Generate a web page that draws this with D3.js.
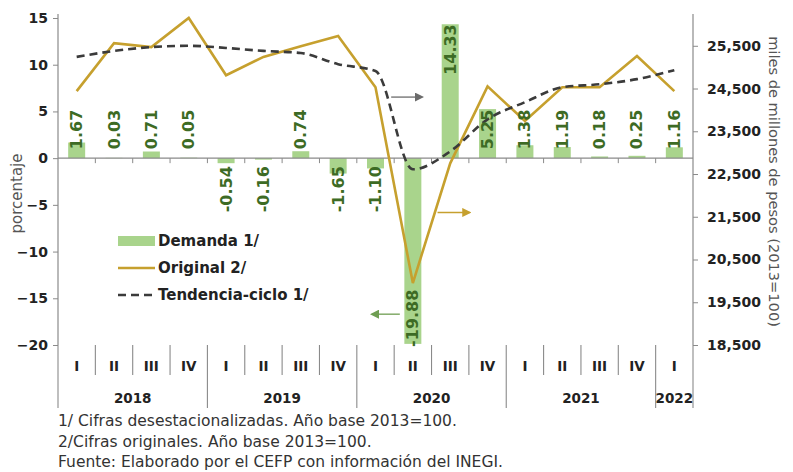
<!DOCTYPE html>
<html lang="es">
<head>
<meta charset="UTF-8">
<script src="https://d3js.org/d3.v7.min.js"></script>
<style>
  body { margin: 0; background: #fff; }
  svg { font-family: "DejaVu Sans", Lato, sans-serif; }
</style>
</head>
<body>
<script>
  // quarters 2018-I .. 2022-I
  const quarters = ["I","II","III","IV","I","II","III","IV","I","II","III","IV","I","II","III","IV","I"];
  const years = [
    {label: "2018", from: 0, to: 4},
    {label: "2019", from: 4, to: 8},
    {label: "2020", from: 8, to: 12},
    {label: "2021", from: 12, to: 16},
    {label: "2022", from: 16, to: 17}
  ];
  // Demanda 1/ (porcentaje, left axis)
  const demanda = [1.67, 0.03, 0.71, 0.05, -0.54, -0.16, 0.74, -1.65, -1.10, -19.88, 14.33, 5.25, 1.38, 1.19, 0.18, 0.25, 1.16];
  // Original 2/ (miles de millones de pesos, right axis)
  const original = [24440, 25560, 25470, 26150, 24810, 25240, 25490, 25730, 24530, 19950, 22750, 24550, 23740, 24530, 24530, 25260, 24440];
  // Tendencia-ciclo 1/ (right axis)
  const tendencia = [25240, 25380, 25470, 25500, 25450, 25380, 25330, 25070, 24910, 22610, 23030, 23780, 24180, 24530, 24600, 24720, 24930];
  const leftTicks = [-20, -15, -10, -5, 0, 5, 10, 15];
  const rightTicks = [18500, 19500, 20500, 21500, 22500, 23500, 24500, 25500];
  const notes = [
    "1/ Cifras desestacionalizadas. Año base 2013=100.",
    "2/Cifras originales. Año base 2013=100.",
    "Fuente: Elaborado por el CEFP con información del INEGI."
  ];

  const width = 793, height = 472;
  const plot = {left: 58, right: 693, top: 18, bottom: 345};

  const barColor = "#a9d48c";
  const labelColor = "#3d6b24";
  const origColor = "#c6a02e";
  const trendColor = "#3b3b3b";
  const axisColor = "#8a8a8a";
  const textColor = "#222";

  const x = d3.scaleBand()
    .domain(d3.range(quarters.length))
    .range([plot.left, plot.right])
    .padding(0);
  const yL = d3.scaleLinear().domain([-20, 15]).range([plot.bottom, plot.top]);
  const yR = d3.scaleLinear().domain([18500, 26150]).range([plot.bottom, plot.top]);
  const cx = i => x(i) + x.bandwidth() / 2;
  const barW = 17;

  const svg = d3.select("body").append("svg")
    .attr("width", width)
    .attr("height", height);

  const defs = svg.append("defs");
  [["arrGray", "#6b6b6b"], ["arrGold", origColor], ["arrGreen", "#6f9e52"]].forEach(([id, c]) => {
    defs.append("marker")
      .attr("id", id)
      .attr("viewBox", "0 0 10 10")
      .attr("refX", 8).attr("refY", 5)
      .attr("markerWidth", 7).attr("markerHeight", 7)
      .attr("orient", "auto-start-reverse")
      .append("path")
      .attr("d", "M0,0 L10,5 L0,10 Z")
      .attr("fill", c);
  });

  // bars
  svg.append("g").selectAll("rect")
    .data(demanda).enter()
    .append("rect")
    .attr("x", (d, i) => cx(i) - barW / 2)
    .attr("y", d => yL(Math.max(0, d)))
    .attr("width", barW)
    .attr("height", d => Math.abs(yL(d) - yL(0)))
    .attr("fill", barColor);

  // zero line with small ticks
  const zero = svg.append("g").attr("transform", `translate(0,${yL(0)})`);
  zero.append("line")
    .attr("x1", plot.left).attr("x2", plot.right)
    .attr("stroke", axisColor).attr("stroke-width", 1.2);
  zero.selectAll("line.t")
    .data(d3.range(1, quarters.length)).enter()
    .append("line").attr("class", "t")
    .attr("x1", i => x(i)).attr("x2", i => x(i))
    .attr("y1", 0).attr("y2", 5)
    .attr("stroke", axisColor);

  // lines
  const lineR = d3.line().x((d, i) => cx(i)).y(d => yR(d));
  svg.append("path")
    .datum(original)
    .attr("d", lineR)
    .attr("fill", "none")
    .attr("stroke", origColor)
    .attr("stroke-width", 2.6)
    .attr("stroke-linejoin", "miter");
  svg.append("path")
    .datum(tendencia)
    .attr("d", d3.line().curve(d3.curveMonotoneX).x((d, i) => cx(i)).y(d => yR(d)))
    .attr("fill", "none")
    .attr("stroke", trendColor)
    .attr("stroke-width", 2.6)
    .attr("stroke-dasharray", "8,5");

  // bar labels (rotated)
  svg.append("g").selectAll("text")
    .data(demanda).enter()
    .append("text")
    .attr("transform", (d, i) => {
      let y;
      if (d > 10) y = yL(d);
      else if (d < -10) y = yL(d) + 3;
      else if (d >= 0) y = yL(0) - 9;
      else y = yL(0) + 8;
      return `translate(${cx(i)},${y}) rotate(-90)`;
    })
    .attr("text-anchor", d => (d > 10 || (d < 0 && d >= -10)) ? "end" : "start")
    .attr("dominant-baseline", "central")
    .attr("fill", labelColor)
    .attr("font-size", 16)
    .attr("font-weight", 700)
    .text(d => d.toFixed(2));

  // left axis
  const axL = svg.append("g")
    .attr("transform", `translate(${plot.left},0)`)
    .call(d3.axisLeft(yL).tickValues(leftTicks).tickSize(5).tickPadding(5));
  // right axis
  const axR = svg.append("g")
    .attr("transform", `translate(${plot.right},0)`)
    .call(d3.axisRight(yR).tickValues(rightTicks).tickFormat(d3.format(",")).tickSize(5).tickPadding(9));
  [axL, axR].forEach(g => {
    g.select(".domain").attr("stroke", axisColor).attr("stroke-width", 1.2)
      .attr("d", `M0,${plot.bottom}V${plot.top - 4}`);
    g.selectAll(".tick line").attr("stroke", axisColor);
    g.selectAll(".tick text")
      .attr("fill", textColor)
      .attr("font-size", 14)
      .attr("font-weight", 700)
      .attr("font-family", "DejaVu Sans, sans-serif");
  });

  // category axis
  const cat = svg.append("g");
  const isYearEdge = i => years.some(y => y.from === i) || i === quarters.length;
  cat.selectAll("line")
    .data(d3.range(0, quarters.length + 1)).enter()
    .append("line")
    .attr("x1", i => i < quarters.length ? x(i) : plot.right)
    .attr("x2", i => i < quarters.length ? x(i) : plot.right)
    .attr("y1", plot.bottom)
    .attr("y2", i => isYearEdge(i) ? 408 : 375)
    .attr("stroke", axisColor)
    .attr("stroke-width", 1.1);
  cat.selectAll("text.q")
    .data(quarters).enter()
    .append("text").attr("class", "q")
    .attr("x", (d, i) => cx(i))
    .attr("y", 366)
    .attr("text-anchor", "middle")
    .attr("dominant-baseline", "central")
    .attr("font-size", 13.5)
    .attr("font-weight", 700)
    .attr("fill", textColor)
    .text(d => d);
  cat.selectAll("text.y")
    .data(years).enter()
    .append("text").attr("class", "y")
    .attr("x", d => (x(d.from) + (d.to < quarters.length ? x(d.to) : plot.right)) / 2)
    .attr("y", 398)
    .attr("text-anchor", "middle")
    .attr("dominant-baseline", "central")
    .attr("font-size", 13.5)
    .attr("font-weight", 700)
    .attr("fill", textColor)
    .text(d => d.label);

  // axis titles
  svg.append("text")
    .attr("transform", `translate(17,${(plot.top + plot.bottom) / 2 + 12}) rotate(-90)`)
    .attr("text-anchor", "middle")
    .attr("dominant-baseline", "central")
    .attr("font-size", 15)
    .attr("fill", "#555")
    .text("porcentaje");
  svg.append("text")
    .attr("transform", `translate(774,${(plot.top + plot.bottom) / 2}) rotate(90)`)
    .attr("text-anchor", "middle")
    .attr("dominant-baseline", "central")
    .attr("font-size", 14.6)
    .attr("fill", "#555")
    .text("miles de millones de pesos (2013=100)");

  // legend
  const legend = svg.append("g").attr("transform", "translate(118,241)");
  const legendItems = ["Demanda 1/", "Original 2/", "Tendencia-ciclo 1/"];
  legendItems.forEach((t, k) => {
    const g = legend.append("g").attr("transform", `translate(0,${k * 27})`);
    if (k === 0) {
      g.append("rect").attr("x", 0).attr("y", -5).attr("width", 37).attr("height", 10).attr("fill", barColor);
    } else {
      g.append("line").attr("x1", 0).attr("x2", 37)
        .attr("stroke", k === 1 ? origColor : trendColor)
        .attr("stroke-width", 2.6)
        .attr("stroke-dasharray", k === 2 ? "8,5" : null);
    }
    g.append("text")
      .attr("x", 40)
      .attr("dominant-baseline", "central")
      .attr("font-size", 15)
      .attr("font-weight", 700)
      .attr("fill", textColor)
      .text(t);
  });

  // axis pointer arrows
  const arrows = [
    {x1: x(9) - 3, x2: x(9) + 28, y: yR(24300), m: "arrGray", c: "#6b6b6b"},
    {x1: x(10) + 6, x2: x(10) + 38, y: yR(21600), m: "arrGold", c: origColor},
    {x1: x(8) + 43, x2: x(8) + 15, y: yL(-16.7), m: "arrGreen", c: "#6f9e52"}
  ];
  svg.append("g").selectAll("line")
    .data(arrows).enter()
    .append("line")
    .attr("x1", d => d.x1).attr("x2", d => d.x2)
    .attr("y1", d => d.y).attr("y2", d => d.y)
    .attr("stroke", d => d.c)
    .attr("stroke-width", 1.3)
    .attr("marker-end", d => `url(#${d.m})`);

  // notes
  svg.append("g").selectAll("text")
    .data(notes).enter()
    .append("text")
    .attr("x", 58)
    .attr("y", (d, i) => 421 + i * 20.5)
    .attr("dominant-baseline", "central")
    .attr("font-size", 15.5)
    .attr("fill", "#333")
    .text(d => d);
</script>
</body>
</html>
